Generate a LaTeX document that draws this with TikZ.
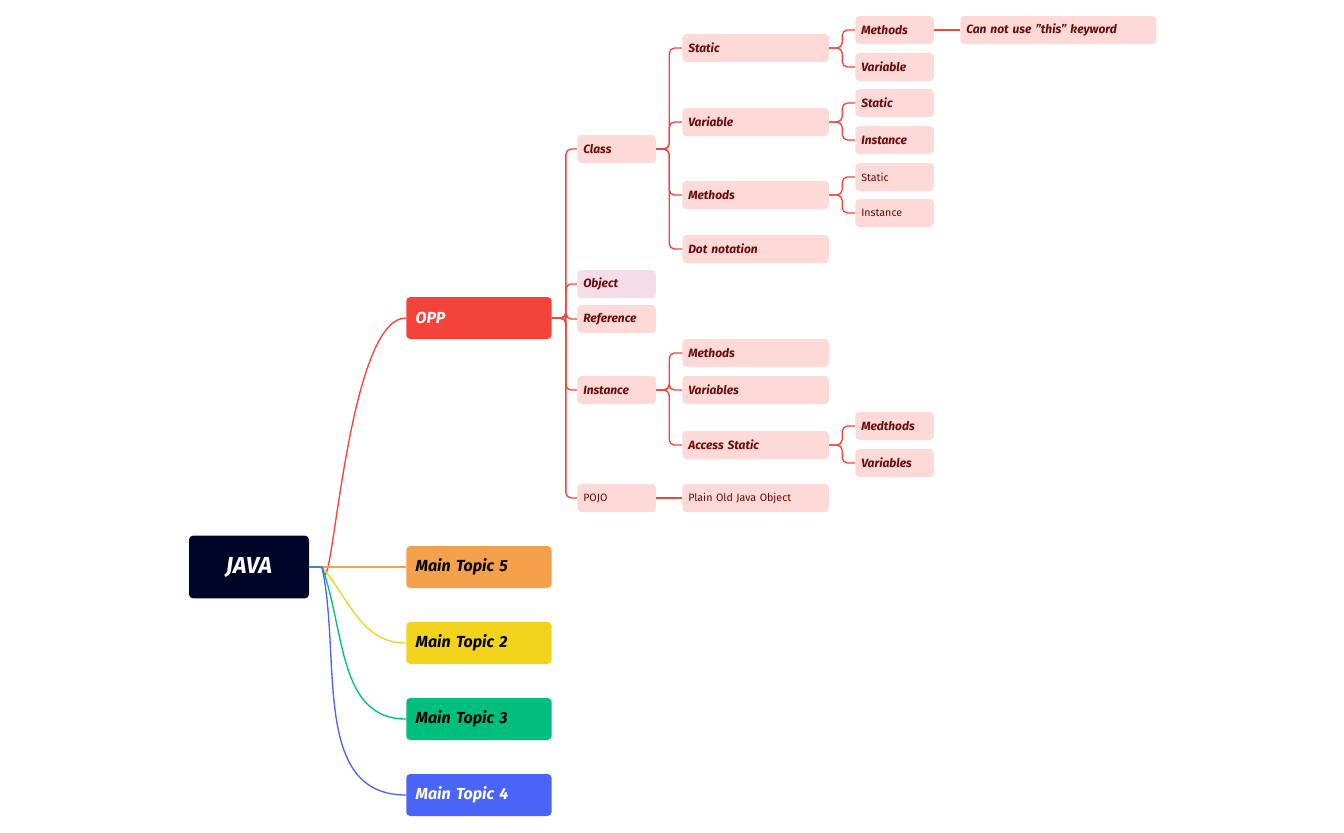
\documentclass[tikz,border=0pt]{standalone}
\usepackage{fontspec}
\setmainfont{Fira Sans}
\definecolor{rootc}{HTML}{000428}
\definecolor{oppc}{HTML}{F5433B}
\definecolor{orangec}{HTML}{F5A04B}
\definecolor{yellowc}{HTML}{F2D31B}
\definecolor{greenc}{HTML}{00BE7D}
\definecolor{bluec}{HTML}{4A65F5}
\definecolor{pinkc}{HTML}{FDDAD8}
\definecolor{objc}{HTML}{F5DDE8}
\definecolor{textc}{HTML}{6B0A0A}
\usetikzlibrary{arrows}
\usetikzlibrary{shapes}
\begin{document}
\begin{tikzpicture}[x=0.75pt, y=-0.75pt, every node/.style={inner sep=0pt, rounded corners=3pt},
  main/.style={anchor=west, minimum width=109pt, minimum height=31.5pt, font=\large\bfseries\itshape, text width=95pt, align=left},
  sub/.style={anchor=west, fill=pinkc, minimum height=21pt, text width=#1, inner xsep=4.5pt, align=left, font=\small\bfseries\itshape, text=textc},
  plain/.style={sub=#1, font=\footnotesize},
  link/.style={draw=oppc, line width=1pt, rounded corners=4pt}]
	\useasboundingbox (0,0) rectangle (1344,832);
	%Root
	\node [fill=rootc, text=white, minimum width=90pt, minimum height=47pt, font=\LARGE\bfseries\itshape] (java) at (249,567) {JAVA};
	%Main topics
	\node [main, fill=oppc, text=white] (opp) at (406,318) {OPP};
	\node [main, fill=orangec] (mt5) at (406,567) {Main Topic 5};
	\node [main, fill=yellowc] (mt2) at (406,643) {Main Topic 2};
	\node [main, fill=greenc] (mt3) at (406,719) {Main Topic 3};
	\node [main, fill=bluec, text=white] (mt4) at (406,795) {Main Topic 4};
	\draw[line width=1pt, draw=oppc] (java.east) -- (322,567) to[out=-81,in=180,looseness=0.6] (opp.west);
	\draw[line width=1pt, draw=orangec] (java.east) -- (mt5.west);
	\draw[line width=1pt, draw=yellowc] (java.east) -- (322,567) to[out=-50,in=180] (mt2.west);
	\draw[line width=1pt, draw=greenc] (java.east) -- (322,567) to[out=-70,in=180] (mt3.west);
	\draw[line width=1pt, draw=bluec] (java.east) -- (322,567) to[out=-78,in=180] (mt4.west);
	%OPP children
	\node [sub=50pt] (class) at (577,149) {Class};
	\node [sub=50pt, fill=objc] (object) at (577,284) {Object};
	\node [sub=50pt] (reference) at (577,319) {Reference};
	\node [sub=50pt] (instance) at (577,390) {Instance};
	\node [plain=50pt] (pojo) at (577,498) {POJO};
	\foreach \c in {class,object,reference,instance,pojo}
		\draw[link] (opp.east) -- ++(14,0) |- (\c.west);
	%Class children
	\node [sub=101pt] (cstatic) at (682,48) {Static};
	\node [sub=101pt] (cvar) at (682,122) {Variable};
	\node [sub=101pt] (cmeth) at (682,195) {Methods};
	\node [sub=101pt] (cdot) at (682,249) {Dot notation};
	\foreach \c in {cstatic,cvar,cmeth,cdot}
		\draw[link] (class.east) -- ++(13,0) |- (\c.west);
	%Instance children
	\node [sub=101pt] (imeth) at (682,353) {Methods};
	\node [sub=101pt] (ivar) at (682,390) {Variables};
	\node [sub=101pt] (iacc) at (682,445) {Access Static};
	\foreach \c in {imeth,ivar,iacc}
		\draw[link] (instance.east) -- ++(13,0) |- (\c.west);
	\node [plain=101pt] (pojo2) at (682,498) {Plain Old Java Object};
	\draw[link] (pojo.east) -- (pojo2.west);
	%Level four
	\node [sub=50pt] (smeth) at (855,30) {Methods};
	\node [sub=50pt] (svar) at (855,67) {Variable};
	\draw[link] (cstatic.east) -- ++(13,0) |- (smeth.west);
	\draw[link] (cstatic.east) -- ++(13,0) |- (svar.west);
	\node [sub=50pt] (vstatic) at (855,103) {Static};
	\node [sub=50pt] (vinst) at (855,140) {Instance};
	\draw[link] (cvar.east) -- ++(13,0) |- (vstatic.west);
	\draw[link] (cvar.east) -- ++(13,0) |- (vinst.west);
	\node [plain=50pt] (mstatic) at (855,177) {Static};
	\node [plain=50pt] (minst) at (855,213) {Instance};
	\draw[link] (cmeth.east) -- ++(13,0) |- (mstatic.west);
	\draw[link] (cmeth.east) -- ++(13,0) |- (minst.west);
	\node [sub=50pt] (ameth) at (855,426) {Medthods};
	\node [sub=50pt] (avar) at (855,463) {Variables};
	\draw[link] (iacc.east) -- ++(13,0) |- (ameth.west);
	\draw[link] (iacc.east) -- ++(13,0) |- (avar.west);
	\node [sub=138pt] (nothis) at (960,30) {Can not use "this" keyword};
	\draw[link] (smeth.east) -- (nothis.west);
\end{tikzpicture}
\end{document}
